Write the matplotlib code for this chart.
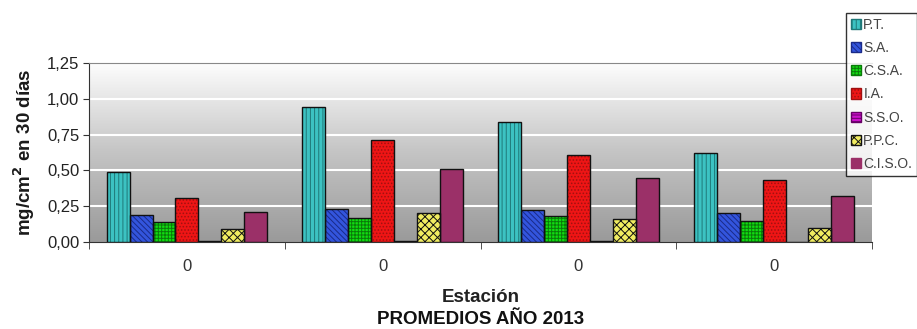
import matplotlib
matplotlib.use("Agg")
from matplotlib import pyplot as plt
from matplotlib.patches import Patch
import numpy as np

plt.rcParams['font.family'] = ['Liberation Sans', 'DejaVu Sans']
plt.rcParams['hatch.linewidth'] = 0.7

stations = ['0', '0', '0', '0']
series = ['P.T.', 'S.A.', 'C.S.A.', 'I.A.', 'S.S.O.', 'P.P.C.', 'C.I.S.O.']
values = {
    'P.T.':     [0.49, 0.94, 0.84, 0.62],
    'S.A.':     [0.19, 0.23, 0.22, 0.20],
    'C.S.A.':   [0.14, 0.17, 0.18, 0.15],
    'I.A.':     [0.31, 0.71, 0.61, 0.43],
    'S.S.O.':   [0.01, 0.01, 0.01, 0.00],
    'P.P.C.':   [0.09, 0.20, 0.16, 0.10],
    'C.I.S.O.': [0.21, 0.51, 0.45, 0.32],
}
fills = ['#3cc2c2', '#3355dd', '#11dd11', '#ee1515', '#cc11cc', '#f0ec60', '#9b3068']
hatch_cols = ['#1f7878', '#1a2a88', '#0a7a0a', '#a01010', '#660066', '#111111', '#9b3068']
hatches = ['||||', '\\\\\\\\\\\\', '+++++', '.....', '-----', 'xxxx', '']

fig = plt.figure(figsize=(9.17, 3.29), dpi=100)
ax = fig.add_axes([89/917, 1 - 242/329, (872-89)/917, (242-63)/329])

# gradient background, light at top, darker at bottom
grad = np.linspace(0, 1, 256).reshape(-1, 1)
cmap = matplotlib.colors.LinearSegmentedColormap.from_list(
    'bg', ['#9a9a9a', '#c4c4c4', '#fdfdfd'])
ax.imshow(grad, aspect='auto', cmap=cmap, origin='lower',
          extent=[-0.5, 3.5, 0, 1.25], zorder=0)

x = np.arange(len(stations))
w = 0.117
for i, name in enumerate(series):
    pos = x + (i - 3) * w
    ax.bar(pos, values[name], w, color=fills[i], edgecolor=hatch_cols[i],
           hatch=hatches[i], linewidth=0, zorder=3)
    ax.bar(pos, values[name], w, fill=False, edgecolor='#111111',
           linewidth=1.0, zorder=4)

ax.set_xlim(-0.5, 3.5)
ax.set_ylim(0, 1.25)
yt = [0, 0.25, 0.5, 0.75, 1.0, 1.25]
ax.set_yticks(yt)
ax.set_yticklabels([f"{v:.2f}".replace('.', ',') for v in yt], fontsize=12, color='#222222')
for v in yt[1:-1]:
    ax.axhline(v, color='white', linewidth=1.5, zorder=1)

ax.set_xticks(x)
ax.set_xticklabels(stations, fontsize=12, color='#333333')
ax.tick_params(axis='x', which='major', length=0, pad=12)
ax.set_xticks(np.arange(-0.5, 4.0, 1.0), minor=True)
ax.tick_params(axis='x', which='minor', length=5, color='#333333', direction='out')
ax.tick_params(axis='y', length=4, color='#333333', pad=3)

ax.spines['right'].set_visible(False)
ax.spines['top'].set_color('#888888')
ax.spines['left'].set_color('#333333')
ax.spines['bottom'].set_color('#333333')

ax.set_ylabel('mg/cm$^\\mathbf{2}$ en 30 días', fontsize=13.5, fontweight='bold',
              labelpad=7, color='#1a1a1a')
fig.text((89+872)/2/917, 1 - 297/329, 'Estación', ha='center', va='center',
         fontsize=13.5, fontweight='bold', color='#222222')
fig.text((89+872)/2/917, 1 - 319/329, 'PROMEDIOS AÑO 2013', ha='center', va='center',
         fontsize=13.5, fontweight='bold', color='#111111')

lh = [Patch(facecolor=fills[i], edgecolor=hatch_cols[i], hatch=hatches[i])
      for i in range(len(series))]
leg = fig.legend(lh, series, loc='upper left', bbox_to_anchor=(846/917, 1 - 13/329),
                 fontsize=10, frameon=True, fancybox=False, edgecolor='black',
                 handlelength=0.75, handleheight=0.75, handletextpad=0.15,
                 labelspacing=0.66, borderpad=0.35, borderaxespad=0,
                 labelcolor='#444444')
leg.get_frame().set_linewidth(1.0)

fig.savefig('out.png', dpi=100)
